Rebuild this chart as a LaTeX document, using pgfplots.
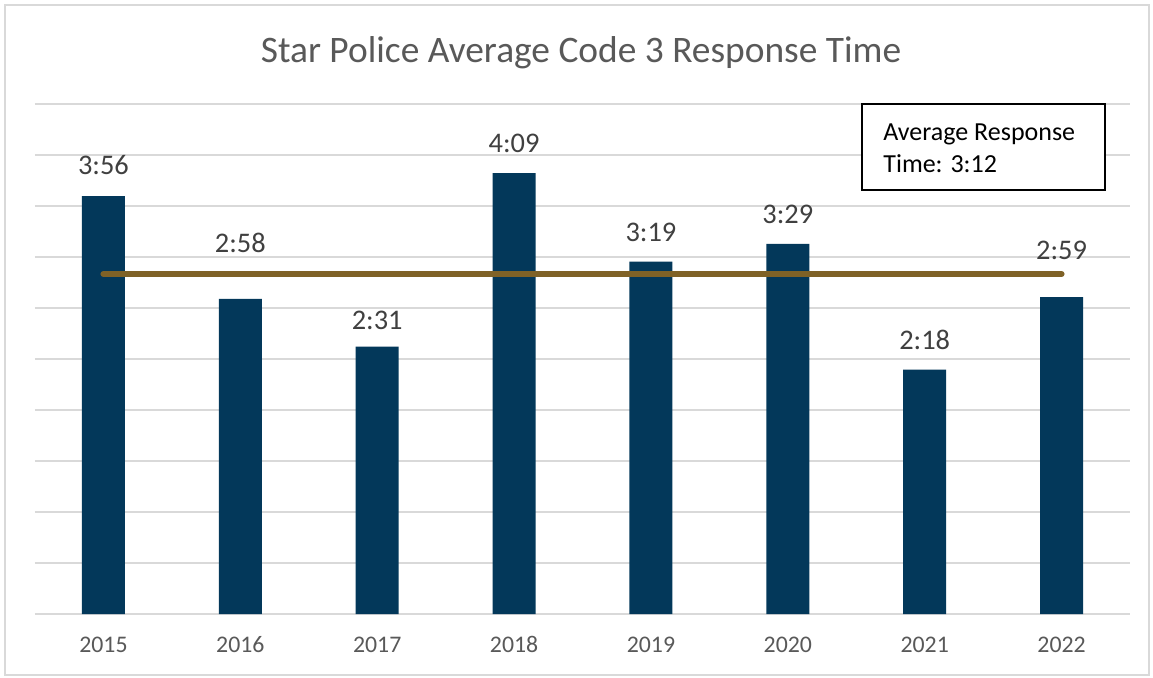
\documentclass[border=0pt]{standalone}
\usepackage{pgfplots}
\pgfplotsset{compat=1.18}
\usepackage{fontspec}
\setmainfont{Carlito}
\definecolor{barblue}{HTML}{03385A}
\definecolor{avgline}{HTML}{7F6227}
\definecolor{gridc}{HTML}{D9D9D9}
\definecolor{titlec}{HTML}{595959}
\definecolor{labelc}{HTML}{404040}
\begin{document}
\begin{tikzpicture}[x=0.5pt,y=-0.5pt]
\fill[white] (0,0) rectangle (1153,677);
\draw[gridc, line width=1pt] (5,5) rectangle (1149,675);
\begin{axis}[
  at={(17.5pt,-307pt)}, anchor=south west,
  scale only axis, width=547.5pt, height=255pt,
  xmin=-0.5, xmax=7.5, ymin=0, ymax=288,
  axis line style={draw=none},
  ytick={28.8,57.6,86.4,115.2,144,172.8,201.6,230.4,259.2,288},
  yticklabels={},
  ymajorgrids, grid style={gridc, line width=1pt},
  major tick length=0pt,
  xtick={0,...,7},
  xticklabels={2015,2016,2017,2018,2019,2020,2021,2022},
  typeset ticklabels with strut,
  xticklabel style={font=\fontsize{11.9}{14}\selectfont, text=titlec, anchor=north, yshift=-6pt},
  clip=false,
]
\draw[gridc, line width=1pt] (axis cs:-0.5,0) -- (axis cs:7.5,0);
\addplot[ybar, bar width=0.314, fill=barblue, draw=none, bar shift=0pt] coordinates {
(0,236) (1,178) (2,151) (3,249) (4,199) (5,209) (6,138) (7,179)};
\addplot[avgline, line width=3pt, line cap=round] coordinates {(0,192) (7,192)};
\addplot[draw=none, mark=none, nodes near coords, point meta=explicit symbolic,
  nodes near coords style={anchor=center, font=\fontsize{14.2}{17}\selectfont, text=labelc}]
  table[meta=label] {
x y label
0 253.5 3:56
1 209.5 2:58
2 166 2:31
3 266 4:09
4 215.7 3:19
5 225.9 3:29
6 154.7 2:18
7 205.5 2:59
};
\end{axis}
\node[anchor=base, text=titlec, font=\fontsize{18.7}{22}\selectfont, inner sep=0pt] at (581,62) {Star Police Average Code 3 Response Time};
\draw[black, line width=1pt, fill=white] (862,103.5) rectangle (1104.5,189.5);
\node[anchor=base west, inner sep=0pt, font=\fontsize{13}{16}\selectfont] at (883,140) {Average Response};
\node[anchor=base west, inner sep=0pt, font=\fontsize{13}{16}\selectfont] at (883,172) {Time: 3:12};
\end{tikzpicture}
\end{document}
